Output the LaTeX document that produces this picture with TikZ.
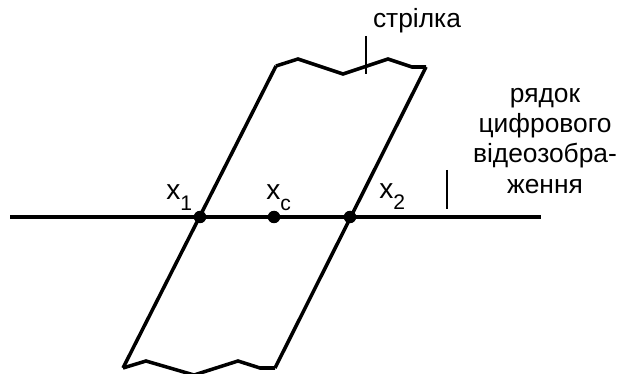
\documentclass[tikz,border=0pt]{standalone}
\usepackage{fontspec}
\setmainfont{Liberation Sans}
\usetikzlibrary{positioning}
\newcommand{\lowidx}[1]{\raisebox{-5.7pt}{\fontsize{12}{12}\selectfont #1}}

\begin{document}
\begin{tikzpicture}[
    x=0.02cm, y=-0.02cm,
    edge/.style={line width=2pt, line join=miter},
    tick/.style={line width=1.3pt},
    pt/.style={circle, fill=black, inner sep=0pt, minimum size=0.25cm},
    lbl/.style={font=\fontsize{16}{18}\selectfont, inner sep=0pt, anchor=base west},
    txt/.style={font=\fontsize{15}{17.2}\selectfont, inner sep=0pt, align=center}
]
    \useasboundingbox (0,0) rectangle (617,374);

    % strip corners
    \coordinate (tl) at (276,66);
    \coordinate (tr) at (426,67);
    \coordinate (bl) at (123,368);
    \coordinate (br) at (275,368);
    \coordinate (lineL) at (10,217);
    \coordinate (lineR) at (541,217);

    \draw[edge] (lineL) -- (lineR);
    \draw[edge] (tl) -- (bl);
    \draw[edge] (tr) -- (br);
    \draw[edge] (tl) -- (298,59) -- (343,74) -- (388,59) -- (412,67) -- (tr);
    \draw[edge] (bl) -- (146,361) -- (194,375) -- (238,361) -- (260,368) -- (br);

    \node[pt] (x1) at (200,217) {};
    \node[pt] (xc) at (274,217) {};
    \node[pt] (x2) at (350,217) {};

    \node[lbl] (lx1) at (166,200) {x\lowidx{1}};
    \node[lbl] (lxc) at (266,200) {x\lowidx{c}};
    \node[lbl] (lx2) at (379,199) {x\lowidx{2}};

    % callouts
    \node[txt, anchor=base] (strip) at (417,28) {стрілка};
    \coordinate (stripA) at (366,36);
    \coordinate (stripB) at (366,74);
    \draw[tick] (stripA) -- (stripB);

    \node[txt, anchor=north] (row) at (545,88) {рядок\\цифрового\\відеозобра-\\ження};
    \coordinate (rowA) at (447,170);
    \coordinate (rowB) at (447,209);
    \draw[tick] (rowA) -- (rowB);
\end{tikzpicture}
\end{document}
